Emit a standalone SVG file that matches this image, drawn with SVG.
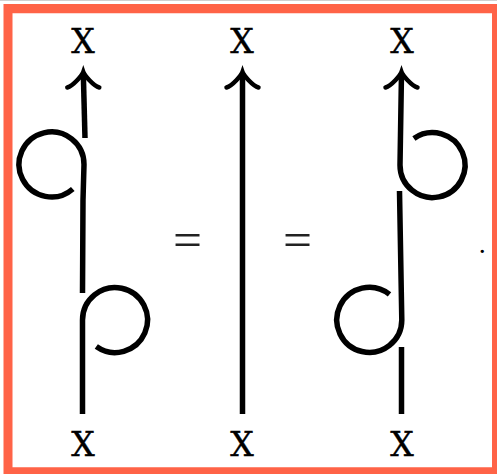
<svg xmlns="http://www.w3.org/2000/svg" width="497" height="474" viewBox="0 0 497 474">
  <style>
    .strand { fill: none; stroke: #000; stroke-width: 5.5; stroke-linecap: butt; stroke-linejoin: round; }
    .tip { fill: none; stroke: #000; stroke-width: 4.5; stroke-linecap: round; }
    .lbl { font-family: "DejaVu Serif", serif; font-size: 33px; fill: #000; stroke: #000; stroke-width: 0.4; text-anchor: middle; }
    .eq { font-family: "Liberation Serif", serif; font-size: 48px; fill: #222; }
  </style>
  <defs>
    <path id="arrowTip" class="tip" d="M -16 15.5 C -10 14 -1 3 0 0 C 1 3 10 14 16 15.5"/>
  </defs>
  <rect x="0" y="0" width="497" height="474" fill="#fff"/>
  <line x1="0" y1="0.5" x2="497" y2="0.5" stroke="#d0d0d0" stroke-width="1"/>
  <path d="M3.5 4 H497 V474 H3.5 Z M12.5 13.3 V467.3 H492 V13.3 Z" fill="#FF6347" fill-rule="evenodd"/>

  <g id="connectors">
    <!-- diagram 1 -->
    <path class="strand" d="M83.3 73 L85 138"/>
    <path class="strand" d="M72.8 189 A32.5 32.5 0 1 1 84 164.5 L83 200 L82.5 293"/>
    <path class="strand" d="M82.5 414 L82.5 320 A32.5 32.5 0 1 1 96.3 346.6"/>
    <use href="#arrowTip" x="83.3" y="72"/>
    <!-- diagram 2 -->
    <path class="strand" d="M242.5 414 L242.5 73"/>
    <use href="#arrowTip" x="242.5" y="72"/>
    <!-- diagram 3 -->
    <path class="strand" d="M401.5 73 L400 165 A32.5 32.5 0 1 0 413.9 138.4"/>
    <path class="strand" d="M399.5 191 L401.8 320 A32.5 32.5 0 1 1 389.5 294.4"/>
    <path class="strand" d="M401.5 347 L401.5 414"/>
    <use href="#arrowTip" x="401.5" y="72"/>
  </g>

  <g id="node-top-1"><text class="lbl" x="83" y="53">X</text></g>
  <g id="node-top-2"><text class="lbl" x="242" y="53">X</text></g>
  <g id="node-top-3"><text class="lbl" x="402" y="53">X</text></g>
  <g id="node-bot-1"><text class="lbl" x="83" y="456">X</text></g>
  <g id="node-bot-2"><text class="lbl" x="242" y="456">X</text></g>
  <g id="node-bot-3"><text class="lbl" x="402" y="456">X</text></g>

  <g id="equals-1"><text class="eq" x="173" y="256" textLength="29" lengthAdjust="spacingAndGlyphs">=</text></g>
  <g id="equals-2"><text class="eq" x="283" y="256" textLength="29" lengthAdjust="spacingAndGlyphs">=</text></g>
  <g id="period"><text x="482.3" y="253" font-family="Liberation Serif, serif" font-size="28" text-anchor="middle" fill="#000">.</text></g>
</svg>
